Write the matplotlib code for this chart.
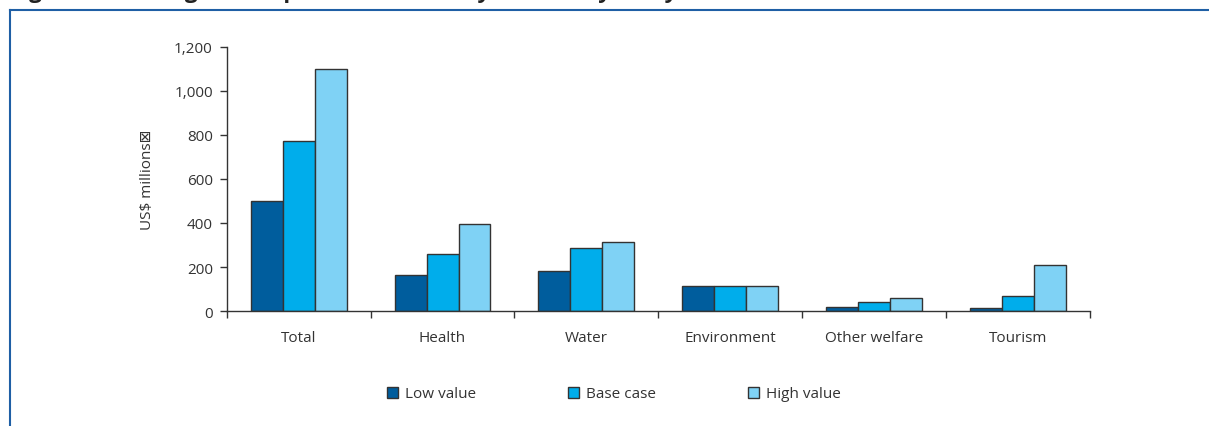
import matplotlib
matplotlib.use("Agg")
import matplotlib.pyplot as plt
from matplotlib.lines import Line2D
from matplotlib.patches import Patch
import numpy as np

plt.rcParams['font.family'] = ['Open Sans', 'DejaVu Sans']

categories = ["Total", "Health", "Water", "Environment", "Other welfare", "Tourism"]
low_value = [500, 162, 183, 115, 18, 12]
base_case = [775, 258, 285, 115, 40, 67]
high_value = [1100, 394, 312, 115, 60, 210]
series_names = ["Low value", "Base case", "High value"]
yticks = [0, 200, 400, 600, 800, 1000, 1200]

colors = ["#005d9d", "#00adeb", "#7fd2f5"]
text_color = "#333333"
fs = 11

W, H = 1209, 427
fig = plt.figure(figsize=(W / 100, H / 100), dpi=100)
ax = fig.add_axes([226.7 / W, 1 - 312 / H, (1090 - 226.7) / W, (312 - 48) / H])

n = len(categories)
x = np.arange(n) + 0.5
bw = 2 / 9
for k, (vals, col) in enumerate(zip([low_value, base_case, high_value], colors)):
    ax.bar(x + (k - 1) * bw, vals, width=bw, color=col, edgecolor="#333333",
           linewidth=1.0, zorder=2)

ax.set_xlim(0, n)
ax.set_ylim(0, 1200)
ax.set_yticks(yticks)
ax.set_yticklabels([f"{v:,}" for v in yticks])
ax.set_xticks(np.arange(n + 1))
ax.set_xticklabels([])
for xi, lab in zip(x, categories):
    ax.text(xi, -26 / 264 * 1200, lab, ha="center", va="center", fontsize=fs,
            color=text_color)

for s in ["top", "right"]:
    ax.spines[s].set_visible(False)
for s in ["left", "bottom"]:
    ax.spines[s].set_color("#333333")
    ax.spines[s].set_linewidth(1.0)
ax.tick_params(axis="y", direction="out", length=5, width=1, color="#333333",
               labelsize=fs, labelcolor=text_color, pad=5)
ax.tick_params(axis="x", direction="out", length=5, width=1, color="#333333")

fig.text(148 / W, 1 - 180 / H, "US$ millions\u22a0", rotation=90, ha="center",
         va="center", fontsize=fs, color=text_color)

handles = [Patch(facecolor=c, edgecolor="#333333", linewidth=1.0) for c in colors]
fig.legend(handles, series_names, loc="center", bbox_to_anchor=(614 / W, 1 - 395 / H),
           ncol=3, frameon=False, fontsize=fs, handlelength=0.7, handleheight=0.7,
           handletextpad=0.5, columnspacing=6.0, labelcolor=text_color)

# Page frame
frame_color = "#1f5fa5"
fig.add_artist(Line2D([9.5 / W, 1], [1 - 11 / H, 1 - 11 / H], color=frame_color,
                      linewidth=1.5, transform=fig.transFigure))
fig.add_artist(Line2D([9.5 / W, 9.5 / W], [0, 1 - 11 / H], color=frame_color,
                      linewidth=1.5, transform=fig.transFigure))

# Figure caption, running above the frame
fig.text(10 / W, 1 + 2 / H, "Figure 4.2  Changes in impacts from the key sensitivity analysis of selected variables",
         ha="left", va="baseline", fontsize=16, fontweight="bold", color="#222222")

fig.savefig("out.png", dpi=100)
